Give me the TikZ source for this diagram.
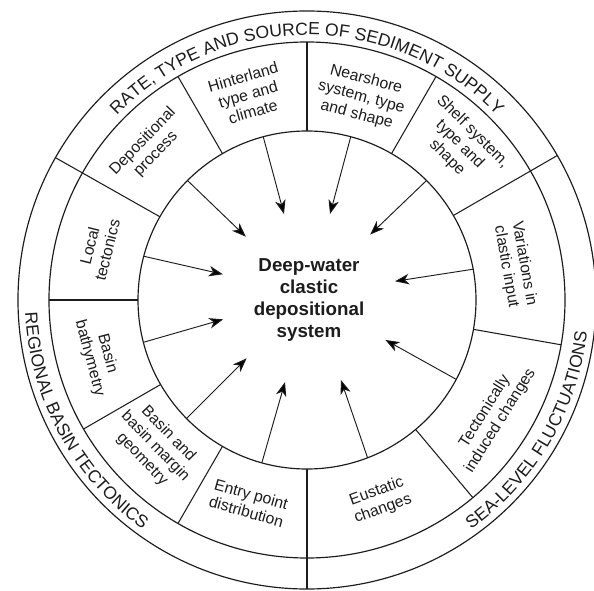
\documentclass[tikz,border=0pt]{standalone}
\usepackage{fontspec}
\setmainfont{Liberation Sans}
\usetikzlibrary{arrows.meta,decorations.text}
\definecolor{ink}{HTML}{1C1C1C}
\newcommand{\ringfont}{\fontsize{15}{15}\selectfont}
\tikzset{
  ringline/.style={draw=ink,line width=1pt},
  divline/.style={draw=ink,line width=0.9pt},
  boxlabel/.style={
    text=ink,
    align=center,
    inner sep=0pt,
    font=\fontsize{13.5}{15.5}\selectfont
  },
  corelabel/.style={
    text=ink,
    align=center,
    inner sep=0pt,
    font=\fontsize{16}{18.5}\selectfont\bfseries
  },
  inarrow/.style={-{Stealth[length=12pt,width=9pt,inset=3.5pt]},line width=0.8pt,draw=ink},
  ringtext/.style={
    decorate,
    decoration={text along path,text align=center,text color=ink,text={#1}}
  }
}

\begin{document}
\begin{tikzpicture}[x=0.03cm,y=0.03cm]
\useasboundingbox (-307,-290) rectangle (287,300);
\clip (-307,-290) rectangle (287,300);

% rings
\draw[ringline] (0,0) circle[radius=169];
\draw[ringline] (0,0) circle[radius=258];
\draw[ringline] (0,0) circle[radius=289];

% box dividers
\draw[divline] (90:169) -- (90:258);
\draw[divline] (120:169) -- (120:258);
\draw[divline] (180:169) -- (180:258);
\draw[divline] (210:169) -- (210:258);
\draw[divline] (240:169) -- (240:258);
\draw[divline] (310:169) -- (310:258);
\draw[divline] (350:169) -- (350:258);
\draw[divline] (60:169) -- (60:258);
% dividers through the outer ring
\draw[divline] (30:169) -- (30:289);
\draw[divline] (150.5:169) -- (150.5:289);
\draw[divline] (270:169) -- (270:289);

% outer ring texts
\path[ringtext={|\ringfont|RATE, TYPE AND SOURCE OF SEDIMENT SUPPLY}]
  (150:265) arc[start angle=150,end angle=30,radius=265];
\path[ringtext={|\ringfont|REGIONAL BASIN TECTONICS}]
  (170:282) arc[start angle=170,end angle=247,radius=282];
\path[ringtext={|\ringfont|SEA-LEVEL FLUCTUATIONS}]
  (-69:282) arc[start angle=-69,end angle=8,radius=282];

% centre
\node[corelabel] (core) at (2,0) {Deep-water\\clastic\\depositional\\system};

% factors
\node[boxlabel,rotate=16] (hinter) at (106:214) {Hinterland\\type and\\climate};
\node[boxlabel,rotate=-15] (nearshore) at (75:210) {Nearshore\\system, type\\and shape};
\node[boxlabel,rotate=46] (depproc) at (136:219) {Depositional\\process};
\node[boxlabel,rotate=-45] (shelf) at (45.5:218) {Shelf system,\\type and\\shape};
\node[boxlabel,rotate=76] (localtec) at (166:215) {Local\\tectonics};
\node[boxlabel,rotate=-80] (variations) at (9.5:211) {Variations in\\clastic input};
\node[boxlabel,rotate=285] (bathy) at (195:216) {Basin\\bathymetry};
\node[boxlabel,rotate=314] (margin) at (224:211) {Basin and\\basin margin\\geometry};
\node[boxlabel,rotate=344] (entry) at (254:211) {Entry point\\distribution};
\node[boxlabel,rotate=20] (eustatic) at (290:213) {Eustatic\\changes};
\node[boxlabel,rotate=58] (tecind) at (328:219) {Tectonically\\induced changes};

% arrow ends
\coordinate (hinterfrom) at (105:169);
\coordinate (hinterto) at (105:89);
\coordinate (nearshorefrom) at (75:169);
\coordinate (nearshoreto) at (75:89);
\coordinate (depprocfrom) at (135:169);
\coordinate (depprocto) at (134:88);
\coordinate (shelffrom) at (45:169);
\coordinate (shelfto) at (46:91);
\coordinate (localtecfrom) at (165:169);
\coordinate (localtecto) at (163:88);
\coordinate (variationsfrom) at (10.5:169);
\coordinate (variationsto) at (12:90);
\coordinate (bathyfrom) at (194.5:169);
\coordinate (bathyto) at (193:86);
\coordinate (marginfrom) at (224.5:169);
\coordinate (marginto) at (224:84);
\coordinate (entryfrom) at (254.5:169);
\coordinate (entryto) at (255:85);
\coordinate (eustaticfrom) at (291:169);
\coordinate (eustaticto) at (293:87);
\coordinate (tecindfrom) at (332:169);
\coordinate (tecindto) at (333:88);

\draw[inarrow] (hinterfrom) -- (hinterto);
\draw[inarrow] (nearshorefrom) -- (nearshoreto);
\draw[inarrow] (depprocfrom) -- (depprocto);
\draw[inarrow] (shelffrom) -- (shelfto);
\draw[inarrow] (localtecfrom) -- (localtecto);
\draw[inarrow] (variationsfrom) -- (variationsto);
\draw[inarrow] (bathyfrom) -- (bathyto);
\draw[inarrow] (marginfrom) -- (marginto);
\draw[inarrow] (entryfrom) -- (entryto);
\draw[inarrow] (eustaticfrom) -- (eustaticto);
\draw[inarrow] (tecindfrom) -- (tecindto);
\end{tikzpicture}
\end{document}
